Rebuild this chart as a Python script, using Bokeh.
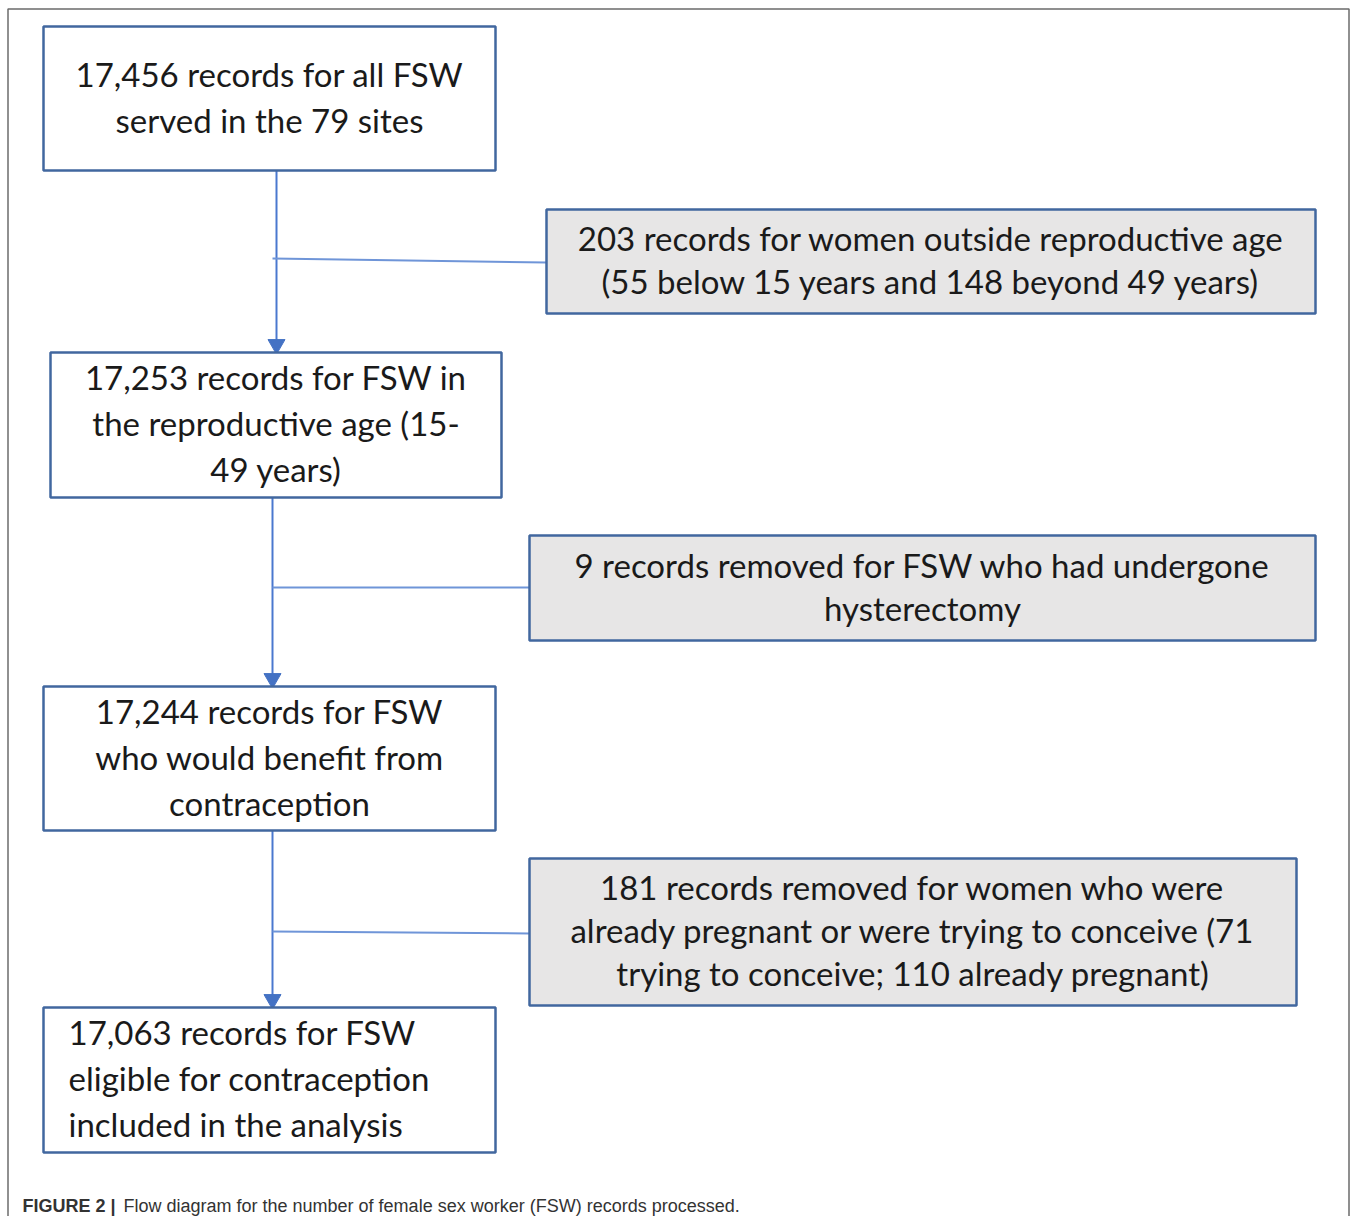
from bokeh.plotting import figure
from bokeh.models import Range1d, ColumnDataSource
from bokeh.embed import file_html
from bokeh.resources import INLINE
from bokeh.core.properties import value

# ---- content ----
box_texts = [
    ["17,456 records for all FSW", "served in the 79 sites"],
    ["203 records for women outside reproductive age", "(55 below 15 years and 148 beyond 49 years)"],
    ["17,253 records for FSW in", "the reproductive age (15-", "49 years)"],
    ["9 records removed for FSW who had undergone", "hysterectomy"],
    ["17,244 records for FSW", "who would benefit from", "contraception"],
    ["181 records removed for women who were", "already pregnant or were trying to conceive (71", "trying to conceive; 110 already pregnant)"],
    ["17,063 records for FSW", "eligible for contraception", "included in the analysis"],
]
box_kind = ["main", "excl", "main", "excl", "main", "excl", "main"]
caption_bold = "FIGURE 2 |"
caption_text = "Flow diagram for the number of female sex worker (FSW) records processed."

# ---- layout (pixel coordinates of the picture) ----
box_left = [43, 546, 50, 529, 43, 529, 43]
box_right = [495, 1315, 501, 1315, 495, 1296, 495]
box_top = [26, 209, 352, 535, 686, 858, 1007]
box_bottom = [170, 313, 497, 640, 830, 1005, 1152]
box_align = ["center"] * 6 + ["left"]
line_gap = {"main": 46, "excl": 43}

W, H = 1350, 1216
p = figure(width=W, height=H, output_backend="svg", toolbar_location=None,
           x_range=Range1d(0, W), y_range=Range1d(H, 0),
           min_border=0, background_fill_color="white", border_fill_color="white")
p.axis.visible = False
p.grid.visible = False
p.outline_line_color = None

# outer frame
p.quad(left=[7.5], right=[1348.5], top=[8.5], bottom=[1240], fill_color=None,
       line_color="#6b6b6b", line_width=1.5)

# connectors: main vertical flow lines
main_idx = [i for i, k in enumerate(box_kind) if k == "main"]
vx = [276, 272, 272]
vx0, vy0, vx1, vy1 = [], [], [], []
for j in range(len(main_idx) - 1):
    a, b = main_idx[j], main_idx[j + 1]
    vx0.append(vx[j]); vx1.append(vx[j])
    vy0.append(box_bottom[a]); vy1.append(box_top[b] - 10)
p.segment(x0=vx0, y0=vy0, x1=vx1, y1=vy1, line_color="#4a78cf", line_width=2)
p.scatter(x=vx1, y=[y + 2 for y in vy1], marker="inverted_triangle", size=17,
          fill_color="#4472C4", line_color="#4472C4", line_width=1)

# side connectors to exclusion boxes
excl_idx = [i for i, k in enumerate(box_kind) if k == "excl"]
hy0 = [258, 587, 931]
hy1 = [262, 587, 933]
hx0 = [272, 272, 272]
hx1 = [box_left[i] for i in excl_idx]
p.segment(x0=hx0, y0=hy0, x1=hx1, y1=hy1, line_color="#6f95d8", line_width=2)

# boxes
fills = ["white" if k == "main" else "#E7E6E6" for k in box_kind]
p.quad(left=box_left, right=box_right, top=box_top, bottom=box_bottom,
       fill_color=fills, line_color="#41679f", line_width=2.5)

# box texts
tx, ty, tt, ta = [], [], [], []
for i, lines in enumerate(box_texts):
    gap = line_gap[box_kind[i]]
    cy = (box_top[i] + box_bottom[i]) / 2 - 2
    n = len(lines)
    for k, s in enumerate(lines):
        ty.append(cy + (k - (n - 1) / 2) * gap)
        tt.append(s)
        if box_align[i] == "center":
            tx.append((box_left[i] + box_right[i]) / 2)
            ta.append("center")
        else:
            tx.append(box_left[i] + 25)
            ta.append("left")
src = ColumnDataSource(dict(x=tx, y=ty, text=tt, align=ta))
p.text(x="x", y="y", text="text", source=src, text_align="align",
       text_baseline="middle", text_font=value("Lato"), text_font_size="33px",
       text_color="#1a1a1a")

# caption
p.text(x=[22], y=[1205], text=[caption_bold], text_font=value("Liberation Sans"),
       text_font_style="bold", text_font_size="18px", text_baseline="middle",
       text_color="#333333")
p.text(x=[123], y=[1205], text=[caption_text], text_font=value("Liberation Sans"),
       text_font_size="18px", text_baseline="middle", text_color="#333333")

open("out.html", "w").write(file_html(p, INLINE))
